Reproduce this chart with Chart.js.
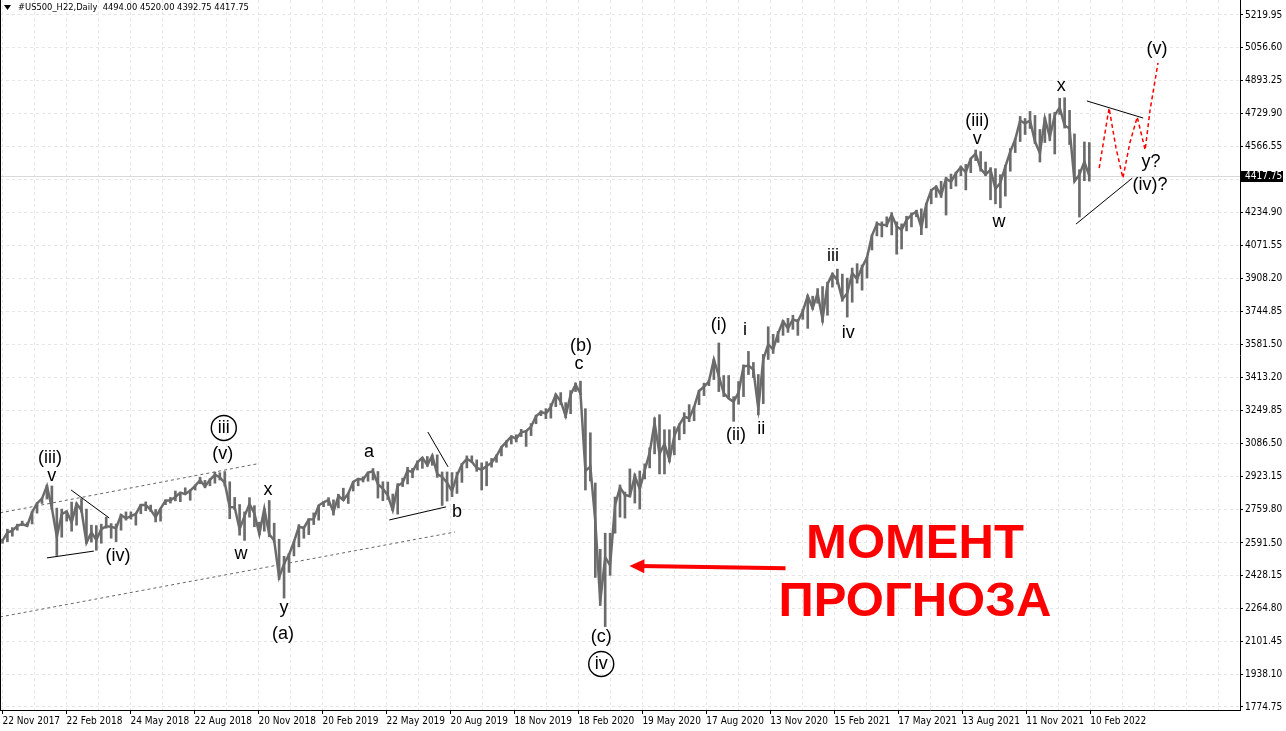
<!DOCTYPE html>
<html>
<head>
<meta charset="utf-8">
<script src="https://cdn.jsdelivr.net/npm/chart.js@4.4.1/dist/chart.umd.min.js"></script>
<style>
  html, body { margin: 0; padding: 0; background: #fff; }
  #wrap { position: relative; width: 1286px; height: 731px; }
</style>
</head>
<body>
<div id="wrap"><canvas id="chart"></canvas></div>
<script>
// weekly bars of #US500_H22, week of 20 Nov 2017 ... week of 7 Feb 2022
const weekLows = [
  2590, 2598, 2625, 2655, 2678, 2675, 2686, 2740, 2788, 2810,
  2760, 2529, 2620, 2700, 2650, 2680, 2745, 2590, 2596, 2555,
  2590, 2665, 2615, 2598, 2655, 2705, 2710, 2680, 2737, 2752,
  2748, 2696, 2700, 2782, 2790, 2801, 2797, 2835, 2804, 2855,
  2886, 2866, 2876, 2889, 2905, 2875, 2712, 2757, 2630, 2604,
  2720, 2672, 2632, 2650, 2622, 2595, 2410, 2317, 2445, 2527,
  2572, 2615, 2633, 2683, 2705, 2772, 2778, 2730, 2766, 2802,
  2788, 2850, 2876, 2895, 2899, 2905, 2815, 2802, 2808, 2752,
  2735, 2872, 2885, 2916, 2955, 2963, 2973, 2978, 2918, 2778,
  2800, 2822, 2838, 2893, 2965, 2992, 2948, 2855, 2876, 2969,
  2993, 3025, 3068, 3084, 3094, 3121, 3072, 3126, 3185, 3225,
  3210, 3213, 3270, 3280, 3215, 3235, 3345, 3330, 2855, 2900,
  2420, 2280, 2175, 2430, 2640, 2720, 2715, 2820, 2790, 2760,
  2910, 2965, 3035, 2935, 2935, 2995, 3030, 3105, 3135, 3195,
  3200, 3280, 3325, 3375, 3405, 3345, 3320, 3315, 3197, 3282,
  3320, 3430, 3415, 3229, 3285, 3505, 3535, 3590, 3625, 3640,
  3655, 3625, 3705, 3660, 3755, 3785, 3690, 3725, 3865, 3880,
  3795, 3716, 3790, 3885, 3850, 3910, 4050, 4120, 4115, 4165,
  4125, 4029, 4055, 4145, 4165, 4215, 4126, 4160, 4280, 4312,
  4312, 4224, 4355, 4368, 4420, 4349, 4435, 4495, 4442, 4420,
  4300, 4280, 4260, 4318, 4442, 4535, 4590, 4625, 4655, 4580,
  4488, 4585, 4595, 4528, 4725, 4657, 4575, 4390, 4214, 4395,
  4393
];
const weekHighs = [
  2610, 2660, 2668, 2685, 2700, 2692, 2748, 2792, 2815, 2878,
  2875, 2765, 2760, 2750, 2795, 2790, 2812, 2760, 2680, 2678,
  2685, 2720, 2688, 2686, 2735, 2746, 2746, 2740, 2783, 2796,
  2780, 2758, 2764, 2806, 2818, 2850, 2843, 2866, 2856, 2880,
  2918, 2903, 2911, 2944, 2941, 2947, 2896, 2818, 2783, 2746,
  2817, 2777, 2695, 2762, 2803, 2690, 2610, 2525, 2540, 2600,
  2683, 2673, 2712, 2741, 2778, 2798, 2817, 2806, 2834, 2864,
  2840, 2898, 2914, 2921, 2944, 2962, 2947, 2896, 2895, 2835,
  2887, 2914, 2968, 2963, 3000, 3018, 3022, 3030, 3030, 2945,
  2945, 2942, 2944, 2988, 3025, 3025, 3005, 2990, 2996, 3012,
  3030, 3070, 3100, 3124, 3130, 3157, 3152, 3186, 3228, 3250,
  3260, 3285, 3333, 3340, 3290, 3350, 3388, 3397, 3260, 3140,
  2890, 2560, 2640, 2640, 2820, 2880, 2845, 2960, 2935, 2950,
  2985, 3065, 3215, 3230, 3155, 3155, 3170, 3185, 3240, 3280,
  3272, 3352, 3387, 3400, 3505, 3587, 3425, 3425, 3320, 3395,
  3478, 3545, 3490, 3430, 3530, 3668, 3630, 3645, 3700, 3710,
  3725, 3705, 3755, 3825, 3820, 3858, 3868, 3890, 3935, 3955,
  3930, 3910, 3960, 3982, 3975, 4015, 4125, 4190, 4190, 4215,
  4236, 4190, 4180, 4218, 4235, 4248, 4255, 4283, 4352, 4370,
  4392, 4412, 4428, 4438, 4468, 4476, 4505, 4548, 4540, 4488,
  4460, 4455, 4425, 4472, 4555, 4605, 4715, 4705, 4740, 4720,
  4650, 4710, 4728, 4735, 4805, 4808, 4745, 4628, 4450, 4588,
  4585
];
const weekCloses = [
  2603, 2643, 2652, 2677, 2685, 2676, 2745, 2788, 2812, 2875,
  2765, 2622, 2735, 2748, 2693, 2787, 2754, 2592, 2644, 2607,
  2660, 2675, 2672, 2665, 2730, 2714, 2725, 2736, 2780, 2780,
  2756, 2720, 2762, 2802, 2804, 2820, 2842, 2834, 2852, 2876,
  2904, 2873, 2906, 2931, 2918, 2890, 2770, 2769, 2660, 2725,
  2785, 2738, 2635, 2762, 2635, 2604, 2420, 2488, 2533, 2597,
  2672, 2666, 2708, 2710, 2778, 2794, 2806, 2745, 2826, 2805,
  2838, 2896, 2910, 2908, 2942, 2948, 2884, 2862, 2828, 2755,
  2876, 2891, 2952, 2945, 2993, 3016, 2979, 3026, 2935, 2920,
  2891, 2850, 2928, 2982, 3010, 2996, 2965, 2956, 2975, 2990,
  3024, 3068, 3095, 3122, 3111, 3142, 3148, 3170, 3222, 3243,
  3236, 3268, 3330, 3296, 3224, 3329, 3379, 3336, 2951, 2971,
  2700, 2300, 2520, 2480, 2780, 2868, 2830, 2825, 2925, 2860,
  2953, 3040, 3190, 3035, 3085, 3005, 3125, 3180, 3220, 3212,
  3268, 3348, 3370, 3395, 3505, 3422, 3338, 3310, 3295, 3340,
  3470, 3475, 3455, 3260, 3505, 3580, 3555, 3635, 3695, 3660,
  3705, 3695, 3745, 3820, 3760, 3835, 3705, 3880, 3930, 3900,
  3805, 3835, 3935, 3905, 3965, 4012, 4122, 4180, 4175, 4176,
  4225, 4168, 4150, 4200, 4225, 4242, 4162, 4278, 4347, 4365,
  4322, 4405, 4390, 4432, 4462, 4437, 4505, 4530, 4455, 4425,
  4450, 4355, 4385, 4465, 4540, 4600, 4695, 4680, 4695, 4590,
  4532, 4705, 4612, 4720, 4760, 4670, 4655, 4392, 4425, 4490,
  4418
];
const firstMonday = '20 Nov 2017';
const totalWeeks = 251; // incl. empty space on the right

const priceTicks = [5219.95, 5056.60, 4893.25, 4729.90, 4566.55, 4403.20, 4234.90, 4071.55,
  3908.20, 3744.85, 3581.50, 3413.20, 3249.85, 3086.50, 2923.15, 2759.80, 2591.50,
  2428.15, 2264.80, 2101.45, 1938.10, 1774.75];
const dateTickLabels = ['22 Nov 2017', '22 Feb 2018', '24 May 2018', '22 Aug 2018', '20 Nov 2018',
  '20 Feb 2019', '22 May 2019', '20 Aug 2019', '18 Nov 2019', '18 Feb 2020', '19 May 2020',
  '17 Aug 2020', '13 Nov 2020', '15 Feb 2021', '17 May 2021', '13 Aug 2021', '11 Nov 2021', '10 Feb 2022'];
const lastBar = { open: 4494.00, high: 4520.00, low: 4392.75, close: 4417.75 };

// wave marks: [text, week, price]
const waveLabels = [
  ['(iii)', 9.6, 3014], ['v', 10.0, 2925], ['(iv)', 23.4, 2527], ['(v)', 44.6, 3034],
  ['x', 53.75, 2855], ['w', 48.3, 2537], ['y', 57.0, 2268], ['(a)', 56.8, 2138],
  ['a', 74.2, 3044], ['b', 92.0, 2746], ['(b)', 117.1, 3572], ['c', 116.7, 3482],
  ['(c)', 121.2, 2123], ['(i)', 145.0, 3677], ['i', 150.3, 3652], ['(ii)', 148.5, 3129],
  ['ii', 153.6, 3159], ['iii', 168.1, 4020], ['iv', 171.2, 3637], ['(iii)', 197.3, 4692],
  ['v', 197.3, 4603], ['w', 201.7, 4189], ['x', 214.3, 4867], ['(v)', 233.7, 5051],
  ['y?', 232.5, 4488], ['(iv)?', 232.3, 4374]
];
const circledLabels = [['iii', 44.8, 3164], ['iv', 121.2, 1989]];
const channelLines = [
  [[-0.5, 2741], [51.5, 2985]],
  [[-0.5, 2223], [91.6, 2646]]
];
const trendLines = [
  [[9.0, 2517], [18.5, 2551]], [[13.9, 2855], [21.6, 2716]],
  [[78.3, 2706], [89.8, 2771]], [[86.1, 3144], [90.2, 2970]],
  [[219.5, 4792], [230.9, 4707]], [[217.3, 4179], [228.7, 4408]]
];
const forecastPath = [[222.0, 4458], [224.0, 4757], [225.4, 4558], [226.8, 4408], [228.2, 4583],
  [229.7, 4712], [231.3, 4548], [232.3, 4747], [233.9, 4981]];
const arrowFromTo = [[158.5, 2465], [126.9, 2477]];
const bigText = [['МОМЕНТ', 184.7, 2583], ['ПРОГНОЗА', 184.7, 2297]];

const axisFont = { family: "'DejaVu Sans Condensed', 'DejaVu Sans', sans-serif", size: 10 };
const MONTHS = ['Jan', 'Feb', 'Mar', 'Apr', 'May', 'Jun', 'Jul', 'Aug', 'Sep', 'Oct', 'Nov', 'Dec'];

// position of a date on the weekly axis (week index + place inside the week)
function weekPos(label) {
  const [d, m, y] = label.split(' ');
  const t = Date.UTC(+y, MONTHS.indexOf(m), +d);
  const [d0, m0, y0] = firstMonday.split(' ');
  const days = Math.round((t - Date.UTC(+y0, MONTHS.indexOf(m0), +d0)) / 86400000);
  return Math.floor(days / 7) + ((days % 7) - 2) / 5;
}
// the terminal puts a date label every 64 bars, so the labels are evenly spaced
const firstTick = weekPos(dateTickLabels[0]);
const lastTick = weekPos(dateTickLabels[dateTickLabels.length - 1]);
const tickStep = (lastTick - firstTick) / (dateTickLabels.length - 1);
const dateTickPos = dateTickLabels.map((_, i) => firstTick + i * tickStep);

// grid every half label step
const gridPos = [];
for (let v = firstTick; v < totalWeeks; v += tickStep / 2) gridPos.push(v);

const overlay = {
  id: 'overlay',
  beforeDatasetsDraw(chart) {
    const { ctx, chartArea: a, scales: { y } } = chart;
    const yy = Math.round(y.getPixelForValue(lastBar.close)) + 0.5;
    ctx.save();
    ctx.strokeStyle = '#d9d9d9';
    ctx.lineWidth = 1;
    ctx.beginPath(); ctx.moveTo(a.left, yy); ctx.lineTo(a.right, yy); ctx.stroke();
    ctx.restore();
  },
  afterDatasetsDraw(chart) {
    const { ctx, scales: { x, y } } = chart;
    const X = w => x.getPixelForValue(w);
    const Y = p => y.getPixelForValue(p);
    const seg = (pts, color, width, dash) => {
      ctx.save();
      ctx.strokeStyle = color; ctx.lineWidth = width; ctx.setLineDash(dash);
      ctx.beginPath();
      pts.forEach((pt, i) => i ? ctx.lineTo(X(pt[0]), Y(pt[1])) : ctx.moveTo(X(pt[0]), Y(pt[1])));
      ctx.stroke();
      ctx.restore();
    };
    channelLines.forEach(l => seg(l, '#666', 1, [3, 3]));
    trendLines.forEach(l => seg(l, '#000', 1, []));
    seg(forecastPath, '#ff0000', 1.5, [4, 3]);

    ctx.save();
    ctx.fillStyle = '#000';
    ctx.font = "18px 'Liberation Sans', Arial, sans-serif";
    ctx.textAlign = 'center';
    ctx.textBaseline = 'middle';
    waveLabels.forEach(([t, w, p]) => ctx.fillText(t, X(w), Y(p)));
    circledLabels.forEach(([t, w, p]) => {
      ctx.fillText(t, X(w), Y(p));
      ctx.beginPath();
      ctx.lineWidth = 1.4;
      ctx.arc(X(w), Y(p), 12.5, 0, Math.PI * 2);
      ctx.stroke();
    });

    // arrow
    const [from, to] = arrowFromTo;
    const x1 = X(from[0]), y1 = Y(from[1]), x2 = X(to[0]), y2 = Y(to[1]);
    const ang = Math.atan2(y2 - y1, x2 - x1);
    ctx.strokeStyle = '#ff0000';
    ctx.fillStyle = '#ff0000';
    ctx.lineWidth = 4;
    ctx.beginPath();
    ctx.moveTo(x1, y1);
    ctx.lineTo(x2 - 10 * Math.cos(ang), y2 - 10 * Math.sin(ang));
    ctx.stroke();
    ctx.beginPath();
    ctx.moveTo(x2, y2);
    ctx.lineTo(x2 - 15 * Math.cos(ang) + 7 * Math.sin(ang), y2 - 15 * Math.sin(ang) - 7 * Math.cos(ang));
    ctx.lineTo(x2 - 15 * Math.cos(ang) - 7 * Math.sin(ang), y2 - 15 * Math.sin(ang) + 7 * Math.cos(ang));
    ctx.closePath();
    ctx.fill();

    ctx.font = "bold 49px 'Liberation Sans', Arial, sans-serif";
    bigText.forEach(([t, w, p]) => ctx.fillText(t, X(w), Y(p)));
    ctx.restore();
  },
  afterDraw(chart) {
    const { ctx, chartArea: a, scales: { y } } = chart;
    ctx.save();
    // frame on the left
    ctx.strokeStyle = '#000';
    ctx.lineWidth = 1;
    ctx.beginPath(); ctx.moveTo(a.left + 0.5, a.top); ctx.lineTo(a.left + 0.5, a.bottom); ctx.stroke();

    // header
    ctx.fillStyle = '#000';
    ctx.beginPath(); ctx.moveTo(4, 5); ctx.lineTo(11, 5); ctx.lineTo(7.5, 10); ctx.closePath(); ctx.fill();
    ctx.font = "9.3px 'DejaVu Sans Condensed', 'DejaVu Sans', sans-serif";
    ctx.textBaseline = 'middle';
    ctx.textAlign = 'left';
    const head = '#US500_H22,Daily  ' + [lastBar.open, lastBar.high, lastBar.low, lastBar.close].map(v => v.toFixed(2)).join(' ');
    ctx.fillText(head, 18, 8);

    // current price box
    const py = y.getPixelForValue(lastBar.close);
    ctx.font = "10px 'DejaVu Sans Condensed', 'DejaVu Sans', sans-serif";
    ctx.fillStyle = '#000';
    ctx.fillRect(a.right + 1, Math.round(py) - 5, 42, 11);
    ctx.fillStyle = '#fff';
    ctx.fillText(lastBar.close.toFixed(2), a.right + 5, Math.round(py) + 0.5);
    ctx.restore();
  }
};

new Chart(document.getElementById('chart'), {
  data: {
    labels: Array.from({ length: totalWeeks }, (_, i) => String(i)),
    datasets: [{
      type: 'line',
      label: 'close',
      data: weekCloses,
      borderColor: '#6b6b6b',
      borderWidth: 2.5,
      pointRadius: 0,
      tension: 0
    }, {
      type: 'bar',
      label: '#US500_H22',
      data: weekLows.map((lo, i) => [lo, weekHighs[i]]),
      backgroundColor: '#6b6b6b',
      borderWidth: 0,
      barThickness: 2
    }]
  },
  options: {
    responsive: true,
    maintainAspectRatio: false,
    animation: false,
    layout: { padding: 0 },
    plugins: { legend: { display: false }, tooltip: { enabled: false } },
    scales: {
      x: {
        type: 'category',
        offset: true,
        afterBuildTicks: s => { s.ticks = gridPos.map(v => ({ value: v })); },
        afterFit: s => { s.height = 21; s.paddingLeft = 0; s.paddingRight = 0; },
        ticks: {
          autoSkip: false, maxRotation: 0, minRotation: 0, align: 'start', padding: 1,
          color: '#000', font: axisFont,
          callback: v => {
            const i = dateTickPos.findIndex(p => Math.abs(p - v) < 1e-6);
            return i >= 0 ? dateTickLabels[i] : '';
          }
        },
        grid: {
          offset: false, color: '#e6e6e6', lineWidth: 1, tickLength: 4,
          tickColor: c => (c.tick && c.tick.label ? '#000' : 'rgba(0,0,0,0)')
        },
        border: { color: '#000', width: 1, dash: [3, 3] }
      },
      y: {
        position: 'right',
        min: 1759.8,
        max: 5294.6,
        afterBuildTicks: s => { s.ticks = priceTicks.map(v => ({ value: v })); },
        afterFit: s => { s.width = 46; s.paddingTop = 0; s.paddingBottom = 0; },
        ticks: {
          padding: 2, color: '#000', font: axisFont,
          callback: v => v.toFixed(2)
        },
        grid: { color: '#e6e6e6', lineWidth: 1, tickLength: 3, tickColor: '#000' },
        border: { color: '#000', width: 1, dash: [3, 3] }
      }
    }
  },
  plugins: [overlay]
});
</script>
</body>
</html>
